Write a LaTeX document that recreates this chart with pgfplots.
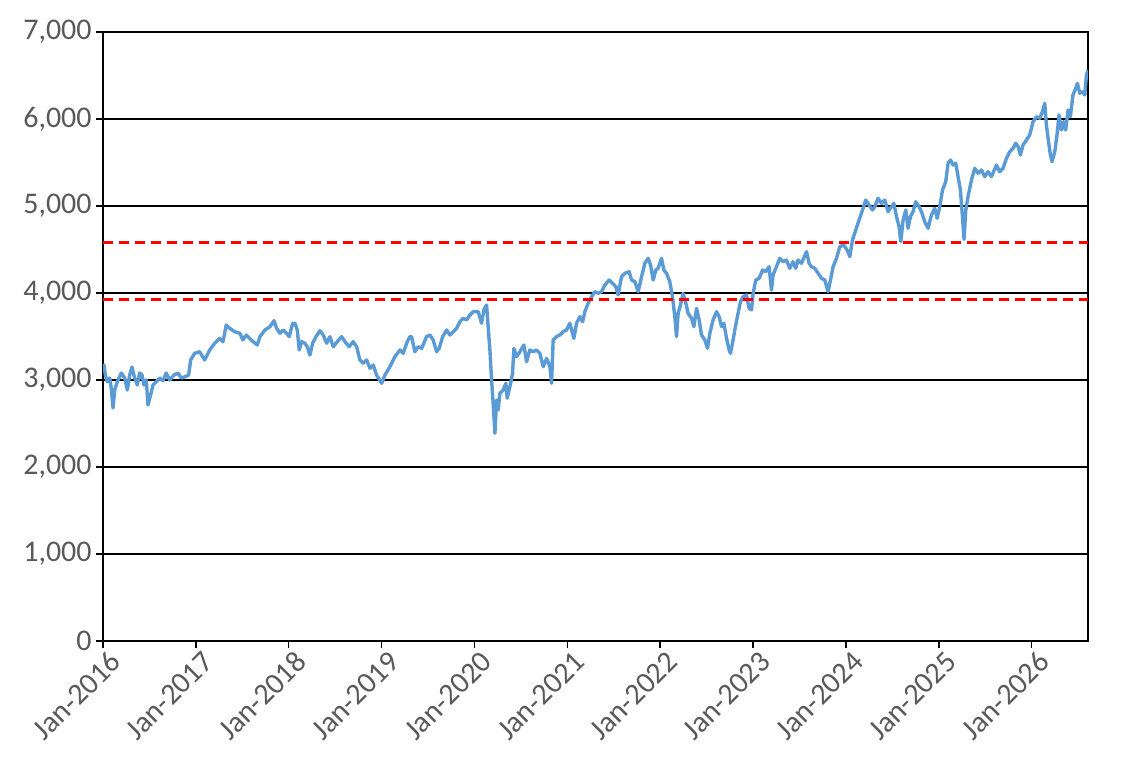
\documentclass[border=0pt]{standalone}
\usepackage{pgfplots}
\pgfplotsset{compat=1.18}
\usepackage{pgfplotstable}
\usepackage{fontspec}
\setmainfont{Carlito}
\definecolor{lineblue}{HTML}{5B9BD5}
\definecolor{ticktext}{HTML}{595959}
\definecolor{dashred}{HTML}{FF0000}
\pgfplotstableread{
t v
0.000 3140
0.011 3172
0.025 3057
0.046 2980
0.072 3023
0.089 2908
0.108 2678
0.126 2885
0.154 2980
0.197 3080
0.234 3023
0.262 2885
0.287 3057
0.312 3149
0.341 3023
0.369 2942
0.395 3080
0.420 3057
0.441 2942
0.466 3000
0.484 2713
0.513 2828
0.538 2942
0.574 2980
0.610 3023
0.646 2992
0.681 3080
0.718 3000
0.764 3057
0.807 3080
0.843 3023
0.886 3038
0.922 3057
0.944 3230
0.987 3307
1.041 3325
1.095 3230
1.149 3345
1.202 3422
1.256 3479
1.292 3440
1.327 3632
1.364 3594
1.418 3555
1.472 3537
1.507 3460
1.543 3517
1.596 3460
1.618 3440
1.661 3402
1.690 3498
1.744 3575
1.798 3613
1.841 3682
1.870 3594
1.905 3537
1.941 3575
1.977 3537
2.005 3498
2.042 3652
2.067 3652
2.092 3575
2.113 3345
2.139 3440
2.174 3422
2.199 3383
2.228 3287
2.257 3422
2.293 3498
2.336 3567
2.371 3517
2.408 3422
2.443 3498
2.479 3383
2.522 3440
2.569 3498
2.605 3440
2.651 3383
2.694 3440
2.731 3383
2.766 3230
2.802 3192
2.839 3230
2.874 3134
2.910 3172
2.946 3057
3.000 2962
3.036 3057
3.089 3153
3.143 3268
3.197 3345
3.232 3307
3.276 3440
3.305 3498
3.323 3498
3.358 3325
3.394 3383
3.431 3364
3.484 3498
3.520 3517
3.555 3460
3.592 3325
3.620 3364
3.657 3498
3.700 3575
3.735 3517
3.771 3555
3.807 3594
3.843 3670
3.878 3709
3.915 3690
3.950 3747
3.986 3785
4.040 3785
4.076 3652
4.101 3805
4.130 3862
4.147 3613
4.166 3345
4.184 3000
4.201 2732
4.220 2387
4.238 2770
4.255 2655
4.273 2847
4.309 2885
4.338 2962
4.352 2790
4.381 2923
4.410 3077
4.424 3364
4.453 3268
4.489 3325
4.532 3402
4.561 3210
4.596 3345
4.632 3325
4.668 3345
4.704 3307
4.740 3153
4.776 3249
4.812 3153
4.830 2962
4.847 3460
4.884 3498
4.919 3517
4.955 3555
4.991 3575
5.027 3652
5.070 3479
5.099 3652
5.135 3728
5.164 3670
5.188 3785
5.224 3882
5.260 3957
5.296 4015
5.332 3996
5.368 4015
5.404 4092
5.450 4149
5.487 4111
5.522 4072
5.547 3977
5.583 4187
5.619 4226
5.665 4245
5.691 4149
5.727 4130
5.762 4015
5.799 4187
5.834 4341
5.870 4399
5.896 4322
5.924 4149
5.953 4264
5.977 4284
6.014 4399
6.039 4264
6.068 4226
6.103 4130
6.132 3957
6.157 3728
6.175 3498
6.193 3767
6.218 3862
6.246 3996
6.276 3882
6.300 3767
6.337 3709
6.362 3613
6.391 3824
6.419 3690
6.444 3517
6.480 3460
6.509 3364
6.534 3537
6.569 3690
6.606 3785
6.634 3728
6.660 3613
6.685 3652
6.714 3479
6.742 3345
6.756 3307
6.778 3422
6.803 3575
6.838 3767
6.864 3900
6.892 3957
6.929 3977
6.957 3824
6.983 3805
7.000 3996
7.029 4149
7.065 4169
7.101 4264
7.137 4245
7.172 4302
7.198 4034
7.215 4207
7.244 4284
7.287 4399
7.323 4360
7.359 4379
7.395 4284
7.430 4360
7.459 4284
7.484 4379
7.521 4341
7.575 4475
7.603 4341
7.628 4302
7.664 4284
7.700 4226
7.736 4169
7.772 4149
7.807 4015
7.833 4149
7.861 4302
7.898 4399
7.933 4532
7.976 4552
8.012 4494
8.041 4417
8.070 4609
8.105 4724
8.141 4839
8.178 4954
8.213 5069
8.249 5011
8.285 4954
8.310 4992
8.345 5088
8.382 5031
8.418 5069
8.453 4934
8.490 4992
8.515 5031
8.544 4877
8.572 4762
8.590 4590
8.615 4839
8.644 4954
8.668 4744
8.694 4877
8.722 4934
8.751 5049
8.787 4992
8.813 4934
8.848 4819
8.884 4744
8.920 4896
8.956 4973
8.981 4859
9.010 4992
9.039 5184
9.074 5279
9.099 5491
9.125 5529
9.153 5471
9.182 5491
9.207 5337
9.232 5184
9.254 4877
9.271 4617
9.290 4954
9.314 5107
9.351 5299
9.386 5433
9.422 5376
9.459 5414
9.494 5337
9.530 5394
9.566 5337
9.620 5471
9.655 5394
9.691 5433
9.728 5548
9.763 5624
9.799 5663
9.828 5721
9.853 5682
9.878 5586
9.906 5701
9.943 5758
9.978 5816
10.014 5969
10.051 6026
10.086 6008
10.115 6084
10.140 6180
10.158 5931
10.176 5778
10.201 5586
10.219 5509
10.248 5624
10.272 5816
10.294 6046
10.320 5873
10.344 5969
10.366 5873
10.391 6103
10.416 6026
10.444 6276
10.474 6353
10.492 6410
10.517 6295
10.546 6314
10.571 6276
10.589 6506
10.606 6563
}\indexdata
\begin{document}
\begin{tikzpicture}
\begin{axis}[
  name=main,
  scale only axis,
  width=492.5pt, height=304.5pt,
  xmin=0, xmax=10.606, ymin=0, ymax=7000,
  xtick={0,1,...,10},
  xticklabels={Jan-2016,Jan-2017,Jan-2018,Jan-2019,Jan-2020,Jan-2021,Jan-2022,Jan-2023,Jan-2024,Jan-2025,Jan-2026},
  ytick={0,1000,...,7000},
  scaled y ticks=false,
  tick pos=left,
  tick align=outside,
  major tick length=3.5pt,
  ymajorgrids,
  grid style={black, line width=0.75pt},
  axis line style={black, line width=1pt},
  tick style={black, line width=0.75pt},
  ticklabel style={font=\fontsize{15}{17}\selectfont, text=ticktext},
  xticklabel style={rotate=45, anchor=east, inner sep=1pt, xshift=2.5pt, yshift=-7.5pt},
  yticklabel style={inner sep=2pt},
  /pgf/number format/.cd, 1000 sep={,}, assume math mode=true,
]
\addplot[lineblue, line width=1.7pt, line join=round] table[x=t, y=v] {\indexdata};
\addplot[dashred, line width=1.9pt, dash pattern=on 5pt off 3pt] coordinates {(0,4580) (10.606,4580)};
\addplot[dashred, line width=1.9pt, dash pattern=on 5pt off 3pt] coordinates {(0,3925) (10.606,3925)};
\end{axis}
\path[use as bounding box] ([xshift=-51.5pt, yshift=-64pt]main.south west) rectangle ([xshift=28pt, yshift=16pt]main.north east);
\end{tikzpicture}
\end{document}
